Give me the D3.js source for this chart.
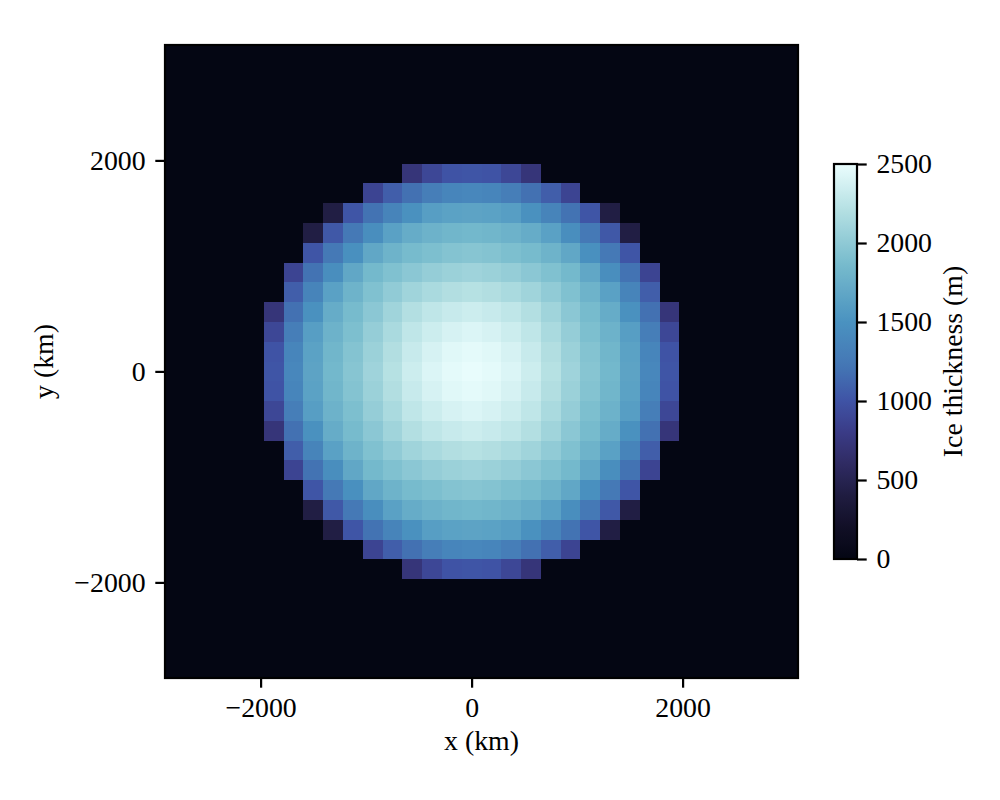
<!DOCTYPE html>
<html lang="en">
<head>
<meta charset="UTF-8">
<title>Ice thickness</title>
<script src="https://d3js.org/d3.v7.min.js"></script>
<style>
  body { margin: 0; background: #ffffff; }
  text { font-family: "Liberation Serif", "DejaVu Serif", serif; fill: #000; }
</style>
</head>
<body>
<svg id="chart" width="1000" height="800"></svg>
<script>
  // grid cell centres (km)
  var xCenters = [-1875, -1687.5, -1500, -1312.5, -1125, -937.5, -750, -562.5, -375, -187.5, 0,
                  187.5, 375, 562.5, 750, 937.5, 1125, 1312.5, 1500, 1687.5, 1875];
  var yCenters = [1875, 1687.5, 1500, 1312.5, 1125, 937.5, 750, 562.5, 375, 187.5, 0,
                  -187.5, -375, -562.5, -750, -937.5, -1125, -1312.5, -1500, -1687.5, -1875];
  var cellSize = 187.5;

  // ice thickness (m), one row per yCenter, top to bottom
  var thickness = [
    [0,0,0,0,0,0,0,730,900,1000,1015,1000,900,730,0,0,0,0,0,0,0],
    [0,0,0,0,0,875,1070,1185,1300,1372,1390,1372,1300,1185,1070,875,0,0,0,0,0],
    [0,0,0,425,1015,1200,1360,1485,1610,1640,1655,1640,1610,1485,1360,1200,1015,425,0,0,0],
    [0,0,425,1030,1250,1455,1632,1728,1788,1820,1838,1820,1788,1728,1632,1455,1250,1030,425,0,0],
    [0,0,1015,1250,1475,1685,1795,1870,1905,1940,1955,1940,1905,1870,1795,1685,1475,1250,1015,0,0],
    [0,875,1200,1455,1685,1845,1918,1980,2035,2068,2092,2068,2035,1980,1918,1845,1685,1455,1200,875,0],
    [0,1070,1360,1632,1795,1918,2012,2098,2150,2192,2215,2192,2150,2098,2012,1918,1795,1632,1360,1070,0],
    [730,1185,1485,1728,1870,1980,2098,2200,2265,2308,2335,2308,2265,2200,2098,1980,1870,1728,1485,1185,730],
    [900,1300,1610,1788,1905,2035,2150,2265,2335,2390,2417,2390,2335,2265,2150,2035,1905,1788,1610,1300,900],
    [1000,1372,1640,1820,1940,2068,2192,2308,2390,2445,2467,2445,2390,2308,2192,2068,1940,1820,1640,1372,1000],
    [1015,1390,1655,1838,1955,2092,2215,2335,2417,2467,2490,2467,2417,2335,2215,2092,1955,1838,1655,1390,1015],
    [1000,1372,1640,1820,1940,2068,2192,2308,2390,2445,2467,2445,2390,2308,2192,2068,1940,1820,1640,1372,1000],
    [900,1300,1610,1788,1905,2035,2150,2265,2335,2390,2417,2390,2335,2265,2150,2035,1905,1788,1610,1300,900],
    [730,1185,1485,1728,1870,1980,2098,2200,2265,2308,2335,2308,2265,2200,2098,1980,1870,1728,1485,1185,730],
    [0,1070,1360,1632,1795,1918,2012,2098,2150,2192,2215,2192,2150,2098,2012,1918,1795,1632,1360,1070,0],
    [0,875,1200,1455,1685,1845,1918,1980,2035,2068,2092,2068,2035,1980,1918,1845,1685,1455,1200,875,0],
    [0,0,1015,1250,1475,1685,1795,1870,1905,1940,1955,1940,1905,1870,1795,1685,1475,1250,1015,0,0],
    [0,0,425,1030,1250,1455,1632,1728,1788,1820,1838,1820,1788,1728,1632,1455,1250,1030,425,0,0],
    [0,0,0,425,1015,1200,1360,1485,1610,1640,1655,1640,1610,1485,1360,1200,1015,425,0,0,0],
    [0,0,0,0,0,875,1070,1185,1300,1372,1390,1372,1300,1185,1070,875,0,0,0,0,0],
    [0,0,0,0,0,0,0,730,900,1000,1015,1000,900,730,0,0,0,0,0,0,0]
  ];

  var xTicks = [-2000, 0, 2000];
  var yTicks = [-2000, 0, 2000];
  var cbarTicks = [0, 500, 1000, 1500, 2000, 2500];
  var extent = [-2906.25, 3093.75];   // plotted domain (km)
  var vmax = 2500;

  // cmocean "ice"-like colormap
  var iceStops = [0, 0.08, 0.16, 0.24, 0.32, 0.40, 0.49, 0.60, 0.75, 0.88, 1.0];
  var iceColors = ["#040613", "#110f26", "#1f1c40", "#2f2b62", "#3a3b86", "#3f53a5",
                   "#4477b5", "#4a92c0", "#78bccd", "#b3dfe2", "#eafdfd"];

  var svg = d3.select("#chart");
  var tick = 9.7, pad = 9.7, fs = 27.8;
  var fmt = function (d) { return d < 0 ? "\u2212" + Math.abs(d) : String(d); };

  var x = d3.scaleLinear().domain(extent).range([165, 798]);
  var y = d3.scaleLinear().domain(extent).range([678, 45]);
  var color = d3.scaleLinear()
    .domain(iceStops.map(function (s) { return s * vmax; }))
    .range(iceColors)
    .clamp(true);

  // zero-thickness background
  svg.append("rect")
    .attr("x", x(extent[0])).attr("y", y(extent[1]))
    .attr("width", x(extent[1]) - x(extent[0]))
    .attr("height", y(extent[0]) - y(extent[1]))
    .attr("fill", color(0));

  var cells = [];
  thickness.forEach(function (row, i) {
    row.forEach(function (v, j) {
      if (v > 0) cells.push({ x: xCenters[j], y: yCenters[i], v: v });
    });
  });

  svg.append("g")
    .attr("shape-rendering", "crispEdges")
    .selectAll("rect")
    .data(cells)
    .enter()
    .append("rect")
    .attr("x", function (d) { return Math.round(x(d.x - cellSize / 2)); })
    .attr("y", function (d) { return Math.round(y(d.y + cellSize / 2)); })
    .attr("width", function (d) { return Math.round(x(d.x + cellSize / 2)) - Math.round(x(d.x - cellSize / 2)); })
    .attr("height", function (d) { return Math.round(y(d.y - cellSize / 2)) - Math.round(y(d.y + cellSize / 2)); })
    .attr("fill", function (d) { return color(d.v); });

  // frame
  svg.append("rect")
    .attr("x", 165).attr("y", 45).attr("width", 633).attr("height", 633)
    .attr("fill", "none").attr("stroke", "#000").attr("stroke-width", 2.2);

  var xAxis = svg.append("g")
    .attr("transform", "translate(0,678)")
    .call(d3.axisBottom(x).tickValues(xTicks).tickSize(tick).tickPadding(pad).tickFormat(fmt));
  var yAxis = svg.append("g")
    .attr("transform", "translate(165,0)")
    .call(d3.axisLeft(y).tickValues(yTicks).tickSize(tick).tickPadding(pad).tickFormat(fmt));

  [xAxis, yAxis].forEach(function (a) {
    a.select(".domain").remove();
    a.selectAll("line").attr("stroke", "#000").attr("stroke-width", 2.2);
    a.selectAll("text").style("font-size", fs + "px").style("font-family", null);
  });

  svg.append("text")
    .attr("x", 481.5).attr("y", 750)
    .attr("text-anchor", "middle")
    .style("font-size", fs + "px")
    .text("x (km)");

  svg.append("text")
    .attr("transform", "translate(53,361.5) rotate(-90)")
    .attr("text-anchor", "middle")
    .style("font-size", fs + "px")
    .text("y (km)");

  // colorbar
  var cb = { x: 834, y: 164, w: 23, h: 395 };
  var cbScale = d3.scaleLinear().domain([0, vmax]).range([cb.y + cb.h, cb.y]);

  var grad = svg.append("defs").append("linearGradient")
    .attr("id", "ice").attr("x1", 0).attr("y1", 1).attr("x2", 0).attr("y2", 0);
  grad.selectAll("stop")
    .data(d3.range(0, 1.0001, 0.02))
    .enter()
    .append("stop")
    .attr("offset", function (d) { return d; })
    .attr("stop-color", function (d) { return color(d * vmax); });

  svg.append("rect")
    .attr("x", cb.x).attr("y", cb.y).attr("width", cb.w).attr("height", cb.h)
    .attr("fill", "url(#ice)")
    .attr("stroke", "#000").attr("stroke-width", 2.2);

  var cbAxis = svg.append("g")
    .attr("transform", "translate(" + (cb.x + cb.w) + ",0)")
    .call(d3.axisRight(cbScale).tickValues(cbarTicks).tickSize(tick).tickPadding(pad).tickFormat(fmt));
  cbAxis.select(".domain").remove();
  cbAxis.selectAll("line").attr("stroke", "#000").attr("stroke-width", 2.2);
  cbAxis.selectAll("text").style("font-size", fs + "px").style("font-family", null);

  svg.append("text")
    .attr("transform", "translate(962,361.5) rotate(-90)")
    .attr("text-anchor", "middle")
    .style("font-size", fs + "px")
    .text("Ice thickness (m)");
</script>
</body>
</html>
